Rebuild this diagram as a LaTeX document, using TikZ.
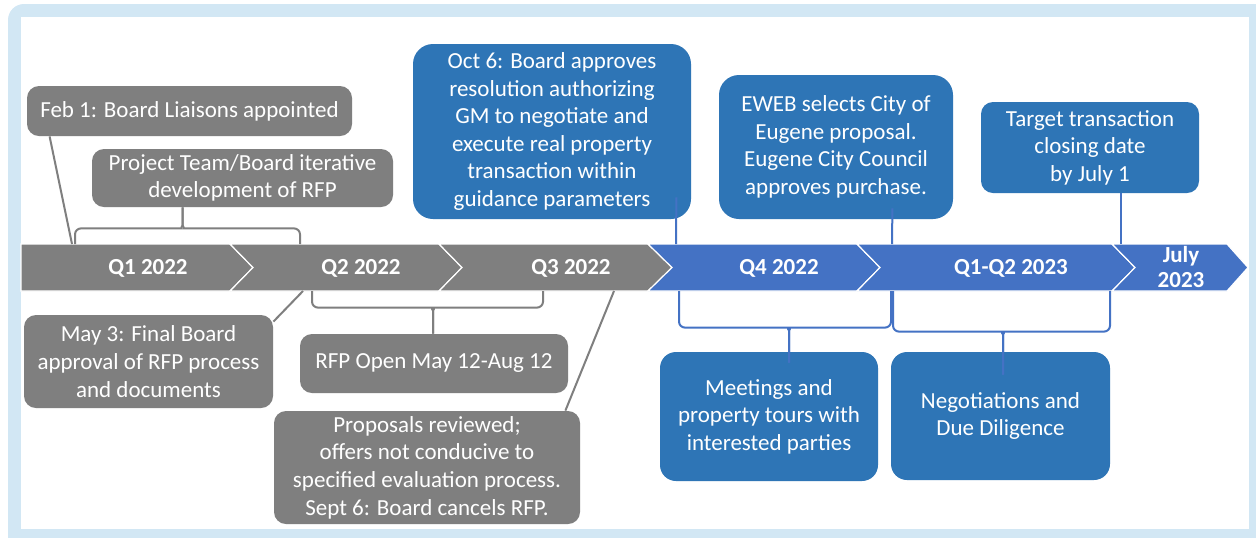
\documentclass[tikz,border=0pt]{standalone}
\usepackage{fontspec}
\setmainfont{Carlito}
\usetikzlibrary{calc}

\definecolor{framebg}{HTML}{D2E7F4}
\definecolor{bargrey}{HTML}{7F7F7F}
\definecolor{barblue}{HTML}{4472C4}
\definecolor{boxblue}{HTML}{2E75B6}

\begin{document}
\begin{tikzpicture}[x=0.5pt,y=-0.5pt,
  greybox/.style={rectangle,rounded corners=6pt,fill=bargrey,text=white,
                  font=\fontsize{11.5}{13.8}\selectfont,align=center,inner sep=0pt},
  bluebox/.style={greybox,fill=boxblue},
  barseg/.style={draw=white,line width=0.6pt},
  barlabel/.style={text=white,font=\fontsize{11.5}{12.5}\selectfont\bfseries,align=center},
  greyline/.style={draw=bargrey,line width=1pt},
  blueline/.style={draw=barblue,line width=1pt},
  bracket/.style={rounded corners=3pt},
]

% === Frame ===
\useasboundingbox (0,0) rectangle (1256,537);
\fill[framebg,rounded corners=8pt] (8,4) rectangle (1275,555);
\fill[white] (21,17) rectangle (1249,529);

% === Timeline bar ===
\fill[bargrey,barseg] (21,244) -- (230,244) -- (253,267.5) -- (230,291) -- (21,291) -- cycle;
\fill[bargrey,barseg] (230,244) -- (439,244) -- (462,267.5) -- (439,291) -- (230,291) -- (253,267.5) -- cycle;
\fill[bargrey,barseg] (439,244) -- (648,244) -- (672,267.5) -- (648,291) -- (439,291) -- (462,267.5) -- cycle;
\fill[barblue,barseg] (648,244) -- (857,244) -- (880,267.5) -- (857,291) -- (648,291) -- (672,267.5) -- cycle;
\fill[barblue,barseg] (857,244) -- (1112,244) -- (1135,267.5) -- (1112,291) -- (857,291) -- (880,267.5) -- cycle;
\fill[barblue,barseg] (1112,244) -- (1227,244) -- (1248,267.5) -- (1227,291) -- (1112,291) -- (1135,267.5) -- cycle;

\node[barlabel] (q1) at (148,268) {Q1 2022};
\node[barlabel] (q2) at (361,268) {Q2 2022};
\node[barlabel] (q3) at (571,268) {Q3 2022};
\node[barlabel] (q4) at (779,268) {Q4 2022};
\node[barlabel] (q5) at (1011,268) {Q1-Q2 2023};
\node[barlabel] (q6) at (1181,267) {July\\2023};

% pins on the bar
\coordinate (pinfeb) at (72,244);
\coordinate (pinmay) at (303,291);
\coordinate (pinprops) at (614,291);
\coordinate (pinoct) at (676,244);
\coordinate (pineweb) at (892,244);
\coordinate (pintarget) at (1121,244);

% === Events above the bar ===
\node[greybox,minimum width=162.5pt,minimum height=25pt] (feb) at (189.5,111)
  {Feb 1: Board Liaisons appointed};
\node[greybox,minimum width=150.5pt,minimum height=29pt] (team) at (242.5,178)
  {Project Team/Board iterative\\development of RFP};
\node[bluebox,rounded corners=10pt,minimum width=139pt,minimum height=87.5pt] (oct) at (552,131.5)
  {Oct 6: Board approves\\resolution authorizing\\GM to negotiate and\\execute real property\\transaction within\\guidance parameters};
\node[bluebox,rounded corners=10pt,minimum width=117pt,minimum height=72pt] (eweb) at (836,147)
  {EWEB selects City of\\Eugene proposal.\\Eugene City Council\\approves purchase.};
\node[bluebox,minimum width=109pt,minimum height=45.5pt] (target) at (1090,147.5)
  {Target transaction\\closing date\\by July 1};

% === Events below the bar ===
\node[greybox,minimum width=124.5pt,minimum height=46.5pt] (may) at (148.5,361.5)
  {May 3: Final Board\\approval of RFP process\\and documents};
\node[greybox,minimum width=134pt,minimum height=29.5pt] (rfp) at (434,363.5)
  {RFP Open May 12-Aug 12};
\node[greybox,minimum width=153pt,minimum height=56.5pt] (props) at (427,467.5)
  {Proposals reviewed;\\offers not conducive to\\specified evaluation process.\\Sept 6: Board cancels RFP.};
\node[bluebox,rounded corners=8pt,minimum width=109pt,minimum height=64.5pt] (meet) at (769,416.5)
  {Meetings and\\property tours with\\interested parties};
\node[bluebox,rounded corners=8pt,minimum width=109.5pt,minimum height=64pt] (nego) at (1000.5,416)
  {Negotiations and\\Due Diligence};

% === Connectors ===
\draw[greyline] ($(feb.south west)+(23,0)$) -- (pinfeb);
\draw[greyline] ($(may.north east)+(0,7)$) -- (pinmay);
\draw[greyline] ($(props.north east)+(-15,0)$) -- (pinprops);
\draw[blueline] ($(oct.south east)+(-15,-22)$) -- (pinoct);
\draw[blueline] ($(eweb.south east)+(-61,-11)$) -- (pineweb);
\draw[blueline] ($(target.south)+(31,0)$) -- (pintarget);

% === Brackets ===
\coordinate (teamtip) at ($(team.south west)+(91,0)$);
\draw[greyline,bracket] (75,244) |- ($(teamtip)+(-7,21)$)
  .. controls +(5,0) and +(0,6) .. ($(teamtip)+(0,12)$) -- (teamtip);
\draw[greyline,bracket] (300,244) |- ($(teamtip)+(7,21)$)
  .. controls +(-5,0) and +(0,6) .. ($(teamtip)+(0,12)$) -- (teamtip);

\coordinate (rfptip) at ($(rfp.north)+(-1,0)$);
\draw[greyline,bracket] (312,291) |- ($(rfptip)+(-7,-26)$)
  .. controls +(5,0) and +(0,-6) .. ($(rfptip)+(0,-17)$) -- (rfptip);
\draw[greyline,bracket] (543,291) |- ($(rfptip)+(7,-26)$)
  .. controls +(-5,0) and +(0,-6) .. ($(rfptip)+(0,-17)$) -- (rfptip);

\coordinate (meettip) at ($(meet.north)+(20,11)$);
\draw[blueline,bracket] (679,291) |- ($(meettip)+(-7,-35)$)
  .. controls +(5,0) and +(0,-6) .. ($(meettip)+(0,-26)$) -- (meettip);
\draw[blueline,bracket] (891,291) |- ($(meettip)+(7,-35)$)
  .. controls +(-5,0) and +(0,-6) .. ($(meettip)+(0,-26)$) -- (meettip);

\coordinate (negotip) at ($(nego.north)+(2.5,23)$);
\draw[blueline,bracket] (893,291) |- ($(negotip)+(-7,-43)$)
  .. controls +(5,0) and +(0,-6) .. ($(negotip)+(0,-34)$) -- (negotip);
\draw[blueline,bracket] (1110,291) |- ($(negotip)+(7,-43)$)
  .. controls +(-5,0) and +(0,-6) .. ($(negotip)+(0,-34)$) -- (negotip);

\end{tikzpicture}
\end{document}
